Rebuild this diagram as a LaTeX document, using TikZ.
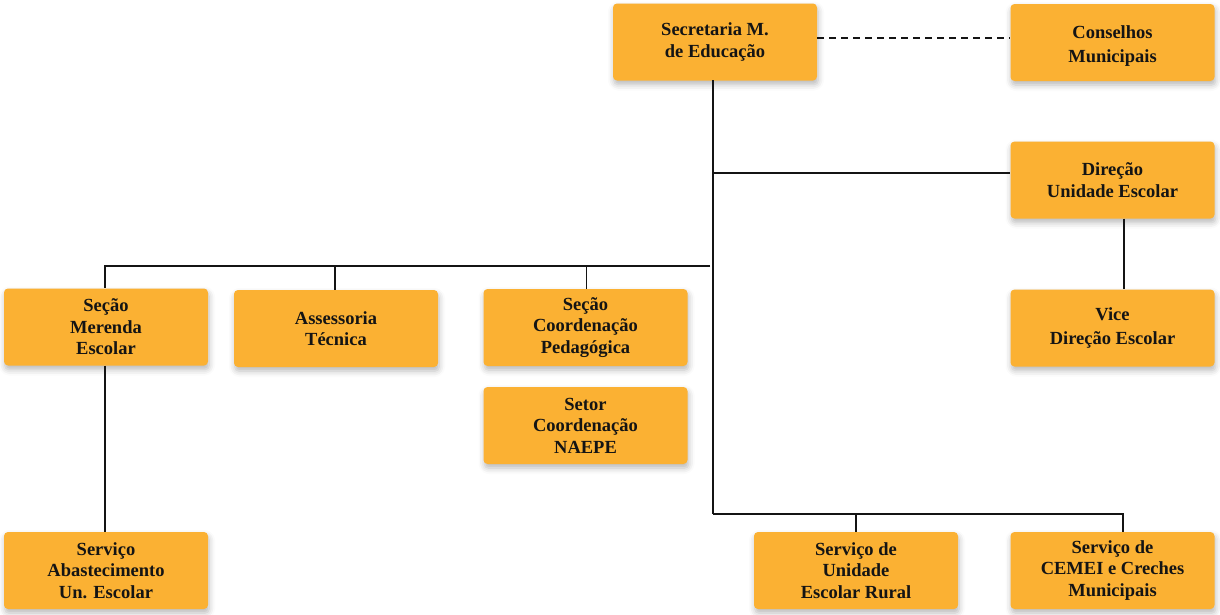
\documentclass[tikz,border=0pt]{standalone}
\usepackage{fontspec}
\setmainfont{Liberation Serif}
\usetikzlibrary{shadows.blur}
\definecolor{boxfill}{RGB}{251,177,51}
\definecolor{inkc}{RGB}{20,20,20}
\tikzset{
  orgbox/.style={rectangle, rounded corners=4pt, fill=boxfill, draw=none,
    minimum width=204pt, minimum height=77pt, inner sep=0pt,
    align=center, text=inkc,
    font=\fontsize{18.5pt}{21.5pt}\selectfont\bfseries,
    blur shadow={shadow xshift=1pt, shadow yshift=-4pt, shadow blur radius=6pt, shadow opacity=28}},
  widebox/.style={orgbox, font=\fontsize{18.5pt}{24pt}\selectfont\bfseries},
  link/.style={draw=inkc, line width=1.8pt},
  dlink/.style={draw=inkc, line width=1.8pt, dash pattern=on 7pt off 5pt}
}
\begin{document}
\begin{tikzpicture}[x=1pt,y=-1pt]
\useasboundingbox (0,0) rectangle (1220,614);
% nodes
\node[orgbox] (sec)   at (715,42)      {Secretaria M.\\de Educação};
\node[widebox] (cons)  at (1112.5,42.5) {\rule{0pt}{20pt}Conselhos\\Municipais};
\node[orgbox] (dir)   at (1112.5,180)  {Direção\\Unidade Escolar};
\node[widebox] (vice)  at (1112.5,328)  {Vice\\Direção Escolar};
\node[orgbox] (mer)   at (106,327)     {Seção\\Merenda\\Escolar};
\node[orgbox] (ass)   at (336,328.5)   {Assessoria\\Técnica};
\node[orgbox] (ped)   at (585.5,327.5) {Seção\\Coordenação\\Pedagógica};
\node[orgbox] (naepe) at (585.5,425.5) {Setor\\Coordenação\\NAEPE};
\node[orgbox] (abast) at (106,570.5)   {Serviço\\Abastecimento\\Un. Escolar};
\node[orgbox] (rural) at (856,570.5)   {Serviço de\\Unidade\\Escolar Rural};
\node[orgbox] (cemei) at (1112.5,570.5){Serviço de\\CEMEI e Creches\\Municipais};
% junction coordinates
\coordinate (top) at (713,80);
\coordinate (jdir) at (713,173);
\coordinate (jmid) at (713,266);
\coordinate (jbot) at (713,514);
% connectors
\draw[dlink] (sec.east |- 0,38) -- (cons.west |- 0,38);
\draw[link] (top) -- (jbot);
\draw[link] (jdir) -- (dir.west |- jdir);
\draw[link] (1124,0 |- dir.south) -- (1124,0 |- vice.north);
\draw[link] (710,266) -- (105,266) -- (105,0 |- mer.north);
\draw[link] (335,266) -- (335,0 |- ass.north);
\draw[link] (586.5,266) -- (586.5,0 |- ped.north);
\draw[link] (105,0 |- mer.south) -- (105,0 |- abast.north);
\draw[link] (jbot) -- (1123,514) -- (1123,0 |- cemei.north);
\draw[link] (856,514) -- (rural.north);
\end{tikzpicture}
\end{document}
